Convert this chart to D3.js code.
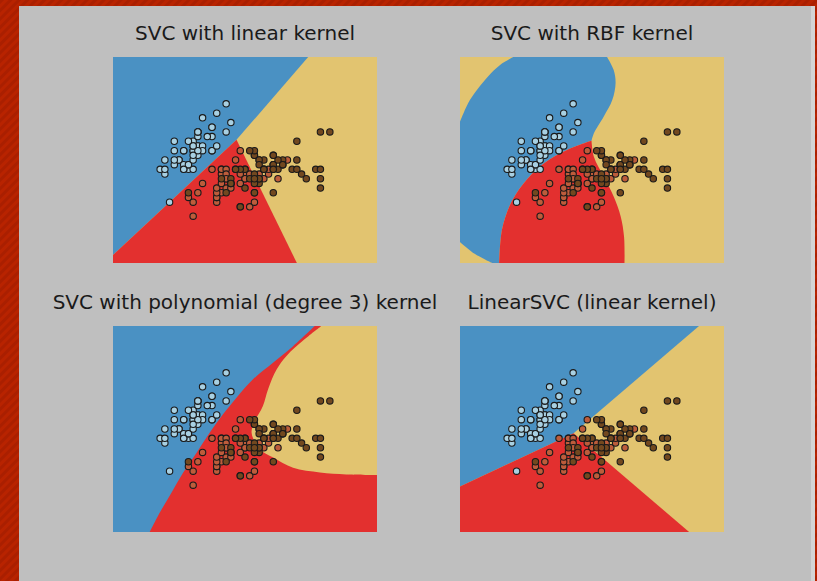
<!DOCTYPE html>
<html>
<head>
<meta charset="utf-8">
<script src="https://cdn.jsdelivr.net/npm/d3@7"></script>
<style>
	body { margin: 0; padding: 0; overflow: hidden; }
	svg { display: block; }
</style>
</head>
<body>
<div class="svc-chart"></div>
<script>
// iris: sepal length / sepal width, class 0 setosa, 1 versicolor, 2 virginica
const sepalLength = [
	5.1, 4.9, 4.7, 4.6, 5.0, 5.4, 4.6, 5.0, 4.4, 4.9, 5.4, 4.8, 4.8, 4.3, 5.8, 5.7, 5.4, 5.1, 5.7, 5.1,
	5.4, 5.1, 4.6, 5.1, 4.8, 5.0, 5.0, 5.2, 5.2, 4.7, 4.8, 5.4, 5.2, 5.5, 4.9, 5.0, 5.5, 4.9, 4.4, 5.1,
	5.0, 4.5, 4.4, 5.0, 5.1, 4.8, 5.1, 4.6, 5.3, 5.0,
	7.0, 6.4, 6.9, 5.5, 6.5, 5.7, 6.3, 4.9, 6.6, 5.2, 5.0, 5.9, 6.0, 6.1, 5.6, 6.7, 5.6, 5.8, 6.2, 5.6,
	5.9, 6.1, 6.3, 6.1, 6.4, 6.6, 6.8, 6.7, 6.0, 5.7, 5.5, 5.5, 5.8, 6.0, 5.4, 6.0, 6.7, 6.3, 5.6, 5.5,
	5.5, 6.1, 5.8, 5.0, 5.6, 5.7, 5.7, 6.2, 5.1, 5.7,
	6.3, 5.8, 7.1, 6.3, 6.5, 7.6, 4.9, 7.3, 6.7, 7.2, 6.5, 6.4, 6.8, 5.7, 5.8, 6.4, 6.5, 7.7, 7.7, 6.0,
	6.9, 5.6, 7.7, 6.3, 6.7, 7.2, 6.2, 6.1, 6.4, 7.2, 7.4, 7.9, 6.4, 6.3, 6.1, 7.7, 6.3, 6.4, 6.0, 6.9,
	6.7, 6.9, 5.8, 6.8, 6.7, 6.7, 6.3, 6.5, 6.2, 5.9
];
const sepalWidth = [
	3.5, 3.0, 3.2, 3.1, 3.6, 3.9, 3.4, 3.4, 2.9, 3.1, 3.7, 3.4, 3.0, 3.0, 4.0, 4.4, 3.9, 3.5, 3.8, 3.8,
	3.4, 3.7, 3.6, 3.3, 3.4, 3.0, 3.4, 3.5, 3.4, 3.2, 3.1, 3.4, 4.1, 4.2, 3.1, 3.2, 3.5, 3.6, 3.0, 3.4,
	3.5, 2.3, 3.2, 3.5, 3.8, 3.0, 3.8, 3.2, 3.7, 3.3,
	3.2, 3.2, 3.1, 2.3, 2.8, 2.8, 3.3, 2.4, 2.9, 2.7, 2.0, 3.0, 2.2, 2.9, 2.9, 3.1, 3.0, 2.7, 2.2, 2.5,
	3.2, 2.8, 2.5, 2.8, 2.9, 3.0, 2.8, 3.0, 2.9, 2.6, 2.4, 2.4, 2.7, 2.7, 3.0, 3.4, 3.1, 2.3, 3.0, 2.5,
	2.6, 3.0, 2.6, 2.3, 2.7, 3.0, 2.9, 2.9, 2.5, 2.8,
	3.3, 2.7, 3.0, 2.9, 3.0, 3.0, 2.5, 2.9, 2.5, 3.6, 3.2, 2.7, 3.0, 2.5, 2.8, 3.2, 3.0, 3.8, 2.6, 2.2,
	3.2, 2.8, 2.8, 2.7, 3.3, 3.2, 2.8, 3.0, 2.8, 3.0, 2.8, 3.8, 2.8, 2.8, 2.6, 3.0, 3.4, 3.1, 3.0, 3.1,
	3.1, 3.1, 2.7, 3.2, 3.3, 3.0, 2.5, 3.0, 3.4, 3.0
];
const species = d3.range(150).map(i => Math.floor(i / 50));

const titles = [
	'SVC with linear kernel',
	'SVC with RBF kernel',
	'SVC with polynomial (degree 3) kernel',
	'LinearSVC (linear kernel)'
];
const xDomain = [3.3, 8.9];
const yDomain = [1.0, 5.4];

// decision boundaries (data units)
const linearBlueYellow = [[7.44, 5.4], [5.92, 3.63]];
const linearBlueRed = [[5.92, 3.63], [3.3, 1.17]];
const linearRedYellow = [[5.92, 3.63], [7.2, 1.0]];

const rbfTopLeft = [[3.3, 4.01], [3.51, 4.48], [3.88, 4.97], [4.15, 5.23], [4.43, 5.4]];
const rbfBlueYellow = [[6.42, 5.4], [6.56, 5.12], [6.6, 4.84], [6.53, 4.48], [6.35, 4.13], [6.14, 3.77], [6.09, 3.61]];
const rbfBlueRed = [[6.09, 3.61], [5.58, 3.42], [5.07, 3.12], [4.64, 2.69], [4.37, 2.26], [4.19, 1.71], [4.13, 1.0]];
const rbfBottomLeft = [[3.98, 1.0], [3.62, 1.19], [3.3, 1.45]];
const rbfRedYellow = [[6.09, 3.61], [6.14, 3.27], [6.35, 2.84], [6.56, 2.42], [6.71, 1.99], [6.78, 1.56], [6.79, 1.0]];

const polyBlueRed = [[7.58, 5.4], [7.12, 4.97], [6.7, 4.62], [6.27, 4.26], [5.92, 3.87], [5.63, 3.51],
	[5.35, 3.12], [5.07, 2.69], [4.79, 2.27], [4.54, 1.84], [4.29, 1.41], [4.08, 1.0]];
const polyRedYellow = [[7.72, 5.4], [7.37, 5.12], [6.98, 4.76], [6.77, 4.47], [6.59, 4.05], [6.48, 3.69],
	[6.31, 3.37], [6.24, 3.12], [6.41, 2.77], [6.7, 2.59], [7.12, 2.37], [7.69, 2.27], [8.25, 2.23], [8.9, 2.22]];

const linsvcBlueYellow = [[8.37, 5.4], [5.71, 3.11]];
const linsvcBlueRed = [[5.71, 3.11], [3.3, 1.97]];
const linsvcRedYellow = [[5.71, 3.11], [8.16, 1.0]];

let regionColor = { blue: '#4a91c3', red: '#e3302f', yellow: '#e2c470' };
let pointColor = ['#a8d0e2', '#bd5c3b', '#72481f'];

let rev = arr => arr.slice().reverse();
let corner = (x, y) => [[x, y]];

let panels = [
	{ title: titles[0], left: 113, top: 57, base: 'yellow', regions: [
		['blue', [corner(3.3, 5.4), linearBlueYellow, linearBlueRed]],
		['red', [rev(linearBlueRed), linearRedYellow.slice(1), corner(3.3, 1.0)]]
	] },
	{ title: titles[1], left: 460, top: 57, base: 'yellow', regions: [
		['blue', [rbfTopLeft, rbfBlueYellow, rbfBlueRed, rbfBottomLeft]],
		['red', [rbfRedYellow, rev(rbfBlueRed)]]
	] },
	{ title: titles[2], left: 113, top: 326, base: 'red', regions: [
		['blue', [corner(3.3, 5.4), polyBlueRed, corner(3.3, 1.0)]],
		['yellow', [polyRedYellow, corner(8.9, 5.4)]]
	] },
	{ title: titles[3], left: 460, top: 326, base: 'yellow', regions: [
		['blue', [corner(3.3, 5.4), linsvcBlueYellow, linsvcBlueRed]],
		['red', [rev(linsvcBlueRed), linsvcRedYellow.slice(1), corner(3.3, 1.0)]]
	] }
];
let pw = 264, ph = 206;

let svg = d3.select('.svc-chart').append('svg')
	.attr('width', 817)
	.attr('height', 581);

// slide background with faint diagonal stripes
let defs = svg.append('defs');
let pat = defs.append('pattern')
	.attr('id', 'stripes')
	.attr('width', 6).attr('height', 6)
	.attr('patternUnits', 'userSpaceOnUse')
	.attr('patternTransform', 'rotate(45)');
pat.append('rect').attr('width', 6).attr('height', 6).attr('fill', '#b82300');
pat.append('rect').attr('width', 3).attr('height', 6).attr('fill', '#aa1f00');

svg.append('rect').attr('width', 817).attr('height', 581).attr('fill', 'url(#stripes)');
svg.append('rect').attr('x', 19).attr('y', 6).attr('width', 796).attr('height', 575).attr('fill', '#d3d3d3');
svg.append('rect').attr('x', 19).attr('y', 6).attr('width', 792).attr('height', 575).attr('fill', '#bfbfbf');

panels.forEach(function (p, i) {
	let xScale = d3.scaleLinear().domain(xDomain).range([p.left, p.left + pw]);
	let yScale = d3.scaleLinear().domain(yDomain).range([p.top + ph, p.top]);

	let curve = d3.line()
		.x(d => xScale(d[0]))
		.y(d => yScale(d[1]))
		.curve(d3.curveCatmullRom.alpha(0.5));

	// join boundary pieces into one closed outline
	let regionPath = function (pieces) {
		let d = '';
		pieces.forEach(function (piece, k) {
			let s = piece.length > 1 ? curve(piece) : 'M' + xScale(piece[0][0]) + ',' + yScale(piece[0][1]);
			d += k === 0 ? s : 'L' + s.slice(1);
		});
		return d + 'Z';
	};

	defs.append('clipPath').attr('id', 'clip' + i)
		.append('rect')
		.attr('x', p.left).attr('y', p.top)
		.attr('width', pw).attr('height', ph);

	let g = svg.append('g').attr('clip-path', 'url(#clip' + i + ')');

	g.append('rect')
		.attr('x', xScale(xDomain[0])).attr('y', yScale(yDomain[1]))
		.attr('width', xScale(xDomain[1]) - xScale(xDomain[0]))
		.attr('height', yScale(yDomain[0]) - yScale(yDomain[1]))
		.attr('fill', regionColor[p.base]);

	p.regions.forEach(function (r) {
		g.append('path')
			.attr('fill', regionColor[r[0]])
			.attr('d', regionPath(r[1]));
	});

	g.selectAll('circle')
		.data(d3.range(sepalLength.length))
		.enter().append('circle')
		.attr('cx', d => xScale(sepalLength[d]))
		.attr('cy', d => yScale(sepalWidth[d]))
		.attr('r', 3.2)
		.attr('fill', d => pointColor[species[d]])
		.attr('stroke', '#1a1a1a')
		.attr('stroke-width', 1.1);

	svg.append('text')
		.attr('x', p.left + pw / 2)
		.attr('y', p.top - 17)
		.attr('text-anchor', 'middle')
		.attr('font-family', 'DejaVu Sans')
		.attr('font-size', 20)
		.attr('fill', '#1a1a1a')
		.text(p.title);
});
</script>
</body>
</html>
